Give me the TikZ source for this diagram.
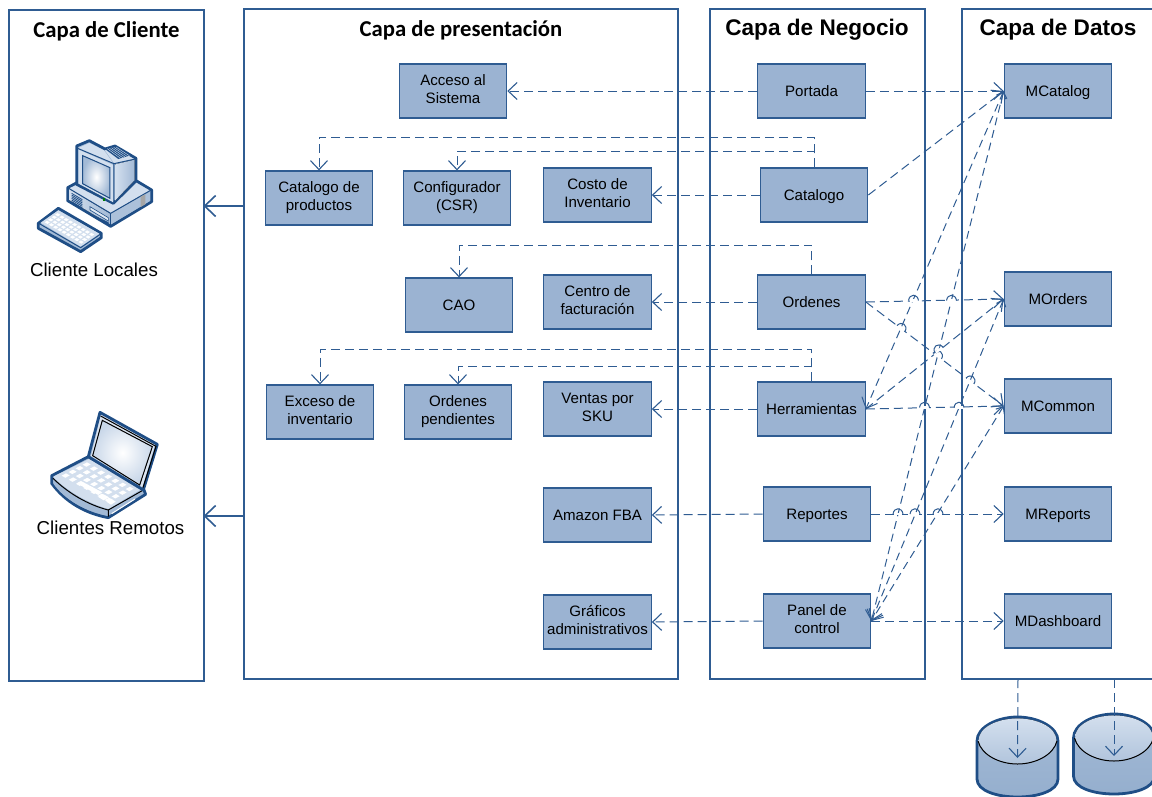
\documentclass[tikz,border=0pt]{standalone}
\usepackage{fontspec}
\setmainfont{Liberation Sans}
\newfontfamily\calib{Carlito}
\usetikzlibrary{arrows.meta}
\definecolor{edgeblue}{HTML}{2F5C92}
\definecolor{boxfill}{HTML}{9BB3D2}
\definecolor{icondark}{HTML}{1F4E86}
\definecolor{iconmid}{HTML}{A3BAD6}
\definecolor{iconlight}{HTML}{D3DFEE}
\newcommand{\boxstrut}{\rule[-3.4pt]{0pt}{18pt}}
\tikzset{
  x=1pt,y=-1pt,
  layerbox/.style={draw=edgeblue,line width=1.1pt,fill=none},
  itembox/.style={draw=edgeblue,line width=1.2pt,fill=boxfill,minimum width=107.5pt,minimum height=54pt,inner sep=0pt,align=center,font=\fontsize{15.1}{18}\selectfont,text=black,execute at begin node=\boxstrut,execute at end node=\boxstrut},
  head/.style={inner sep=0pt,text=black},
  cap1/.style={inner sep=0pt,font=\fontsize{18.7}{22}\selectfont,text=black},
  conn/.style={draw=edgeblue,line width=1pt,dash pattern=on 9pt off 5pt,-{Straight Barb[length=9pt,width=17pt,line width=1.1pt]}},
  connb/.style={draw=edgeblue,line width=1pt,dash pattern=on 8pt off 5pt,{Straight Barb[length=6pt,width=10pt,line width=1pt]}-{Straight Barb[length=9pt,width=17pt,line width=1pt]}},
  solidarrow/.style={draw=edgeblue,line width=1.6pt,-{Straight Barb[length=11pt,width=21pt,line width=1.6pt]}},
  iconline/.style={draw=icondark,line width=2.8pt,line join=round},
}
\newcommand{\lhop}[3]{%
  \fill[white,shift={(#1,#2)},rotate=#3] (-4,-1.2) rectangle (4,1.2);
  \draw[edgeblue,line width=1pt,shift={(#1,#2)},rotate=#3] (-5,0) .. controls (-4,-7) and (4,-7) .. (5,0);}
\begin{document}
\begin{tikzpicture}
\clip (0,0) rectangle (1152,796);
\fill[white] (0,0) rectangle (1152,796);
% layers
\draw[layerbox] (9,10) rectangle (204,681);
\draw[layerbox] (244,9) rectangle (678,679);
\draw[layerbox] (710,9) rectangle (925,679);
\draw[layerbox] (962,9) rectangle (1170,679);
\coordinate (laydatA) at (1018,679);
\coordinate (laydatB) at (1114,679);
\coordinate (clientA) at (203.5,206);
\coordinate (presA) at (243,206);
\coordinate (clientB) at (203.5,516);
\coordinate (presB) at (243,516);
\node[head,font=\calib\bfseries\fontsize{22.7}{26}\selectfont] (h1) at (106.5,31) {Capa de Cliente};
\node[head,font=\calib\bfseries\fontsize{22.7}{26}\selectfont] (h2) at (461,30) {Capa de presentación};
\node[head,font=\bfseries\fontsize{22.6}{28}\selectfont] (h3) at (817,30) {Capa de Negocio};
\node[head,font=\bfseries\fontsize{22.6}{28}\selectfont] (h4) at (1058,30) {Capa de Datos};
% items
\node[itembox] (acceso) at (453,91) {Acceso al\\Sistema};
\node[itembox] (portada) at (811.5,91) {Portada};
\node[itembox] (mcatalog) at (1058,91) {MCatalog};
\node[itembox] (prod) at (319,198) {Catalogo de\\productos};
\node[itembox] (config) at (457,198) {Configurador\\(CSR)};
\node[itembox] (costo) at (597.5,195) {Costo de\\Inventario};
\node[itembox] (catalogo) at (814,195) {Catalogo};
\node[itembox] (cao) at (459,305) {CAO};
\node[itembox] (centro) at (597.5,302) {Centro de\\facturación};
\node[itembox] (ordenes) at (811.5,302) {Ordenes};
\node[itembox] (morders) at (1058,299) {MOrders};
\node[itembox] (mcommon) at (1058,406) {MCommon};
\node[itembox] (exceso) at (320,412) {Exceso de\\inventario};
\node[itembox] (pend) at (458,412) {Ordenes\\pendientes};
\node[itembox] (ventas) at (597.5,409) {Ventas por\\SKU};
\node[itembox] (herr) at (811.5,409) {Herramientas};
\node[itembox] (amazon) at (597.5,515) {Amazon FBA};
\node[itembox] (reportes) at (817,514) {Reportes};
\node[itembox] (mreports) at (1058,514) {MReports};
\node[itembox] (graficos) at (597.5,622) {Gráficos\\administrativos};
\node[itembox] (panel) at (817,621) {Panel de\\control};
\node[itembox] (mdash) at (1058,621) {MDashboard};
% cylinders
\foreach \cx/\cy in {1017.5/741,1114/738}{
  \path[iconline,top color=iconmid,bottom color=iconmid!88!edgeblue]
    (\cx-40.5,\cy) -- (\cx-40.5,\cy+38) .. controls (\cx-40.5,\cy+50) and (\cx-20,\cy+56) .. (\cx,\cy+56)
    .. controls (\cx+20,\cy+56) and (\cx+40.5,\cy+50) .. (\cx+40.5,\cy+38) -- (\cx+40.5,\cy)
    .. controls (\cx+40.5,\cy-14) and (\cx+20,\cy-24) .. (\cx,\cy-24)
    .. controls (\cx-20,\cy-24) and (\cx-40.5,\cy-14) .. (\cx-40.5,\cy) -- cycle;
  \fill[top color=iconlight,bottom color=iconmid!85!white]
    (\cx-39,\cy) .. controls (\cx-39,\cy-14) and (\cx-20,\cy-22.5) .. (\cx,\cy-22.5)
    .. controls (\cx+20,\cy-22.5) and (\cx+39,\cy-14) .. (\cx+39,\cy)
    .. controls (\cx+36,\cy+14) and (\cx+18,\cy+23) .. (\cx,\cy+23)
    .. controls (\cx-18,\cy+23) and (\cx-36,\cy+14) .. (\cx-39,\cy) -- cycle;
  \draw[black,line width=1pt] (\cx-39.5,\cy) .. controls (\cx-36,\cy+14) and (\cx-18,\cy+23) .. (\cx,\cy+23)
    .. controls (\cx+18,\cy+23) and (\cx+36,\cy+14) .. (\cx+39.5,\cy);
}
\coordinate (cylA) at (1017.5,758);
\coordinate (cylB) at (1114,756);
\draw[conn] (laydatA) -- (cylA);
\draw[conn] (laydatB) -- (cylB);
% solid arrows
\draw[solidarrow] (presA) -- (clientA);
\draw[solidarrow] (presB) -- (clientB);
% routed connectors
\draw[conn] (catalogo.north) -- ++(0,-30) -| (prod.north);
\draw[conn] (catalogo.north) -- ++(0,-16) -| (config.north);
\draw[conn] (ordenes.north) -- ++(0,-29) -| (cao.north);
\draw[conn] (herr.north) -- ++(0,-32) -| (exceso.north);
\draw[conn] (herr.north) -- ++(0,-15) -| (pend.north);
% horizontal
\draw[conn] (portada.west) -- (acceso.east);
\draw[conn] (portada.east) -- (mcatalog.west);
\draw[conn] (catalogo.west) -- (costo.east);
\draw[conn] (ordenes.west) -- (centro.east);
\draw[conn] (herr.west) -- (ventas.east);
\draw[conn] (reportes.west) -- (amazon.east);
\draw[conn] (panel.west) -- (graficos.east);
\draw[conn] (ordenes.east) -- (morders.west);
\draw[conn] (herr.east) -- (mcommon.west);
\draw[conn] (reportes.east) -- (mreports.west);
\draw[conn] (panel.east) -- (mdash.west);
% diagonal
\draw[conn] (catalogo.east) -- (mcatalog.west);
\draw[conn] (ordenes.east) -- (mcommon.west);
\draw[conn] (herr.east) -- (morders.west);
\draw[connb] (mcatalog.west) -- (herr.east);
\draw[connb] (mcatalog.west) -- (panel.east);
\draw[connb] (morders.west) -- (panel.east);
\draw[connb] (mcommon.west) -- (panel.east);
% line hops
\lhop{913.5}{300.5}{0}
\lhop{951.5}{300.5}{0}
\lhop{924.5}{407.5}{0}
\lhop{959}{407.5}{0}
\lhop{898}{514}{0}
\lhop{915}{514}{0}
\lhop{938}{514}{0}
\lhop{901}{328.5}{-36.8}
\lhop{937.5}{356}{-36.8}
\lhop{970}{381}{-36.8}
\lhop{939}{350}{38.3}
% computer icon
\begin{scope}[shift={(30,135)},x=.3333pt,y=-.3333pt]
  \fill[iconline,fill=iconmid] (113,158) -- (150,138) -- (320,138) -- (365,165) -- (365,200) -- (242,274) -- (113,197) -- cycle;
  \fill[iconlight] (118,160) -- (155,143) -- (318,143) -- (358,166) -- (242,234) -- cycle;
  \fill[left color=iconlight,right color=iconmid] (118,162) -- (241,236) -- (241,268) -- (118,195) -- cycle;
  \fill[iconmid!90!white] (243,236) -- (360,168) -- (360,198) -- (243,268) -- cycle;
  \draw[icondark,line width=1pt] (116,160) -- (242,235) -- (362,166);
  \draw[icondark,line width=1pt] (242,235) -- (242,272);
  \fill[gray!70] (332,185) -- (346,178) -- (346,208) -- (332,216) -- cycle;
  \foreach \k in {0,...,6}{\draw[icondark,line width=.8pt] (125,{175+\k*5}) -- (157,{194+\k*5});}
  \fill[iconlight!70!white,draw=icondark,line width=.6pt] (180,215) -- (235,248) -- (235,258) -- (180,225) -- cycle;
  \fill[icondark] (190,240) -- (236,262) -- (236,268) -- (190,246) -- cycle;
  \fill[iconline,fill=iconmid] (140,33) -- (178,17) -- (225,42) -- (255,33) -- (318,70) -- (318,138) -- (250,205) -- (140,148) -- cycle;
  \fill[iconlight] (147,38) -- (178,24) -- (222,46) -- (250,85) -- (147,42) -- cycle;
  \fill[iconlight] (225,46) -- (255,39) -- (312,72) -- (255,88) -- cycle;
  \fill[left color=iconlight,right color=iconmid] (256,88) -- (313,74) -- (313,136) -- (256,196) -- cycle;
  \fill[iconlight] (146,44) -- (250,90) -- (250,202) -- (146,146) -- cycle;
  \draw[icondark,line width=1pt] (143,40) -- (252,86) -- (252,204);
  \draw[icondark,line width=1pt] (252,86) -- (316,72);
  \fill[inner color=white,outer color=iconmid,draw=icondark,line width=1pt] (158,62) -- (240,98) -- (240,190) -- (158,146) -- cycle;
  \fill[green!50!black] (219,189) rectangle (226,197);
  \fill[icondark] (225,42) -- (258,36) -- (298,62) -- (265,72) -- cycle;
  \foreach \k in {1,...,5}{\draw[iconlight,line width=.4pt] ({225+\k*6.6},{42-\k*1.2}) -- ({265+\k*6.6},{72-\k*2});}
  % keyboard
  \fill[iconline,fill=iconmid] (25,265) -- (85,220) -- (214,295) -- (214,308) -- (152,350) -- (25,280) -- cycle;
  \fill[iconlight] (32,263) -- (85,226) -- (208,296) -- (152,335) -- cycle;
  \draw[icondark,line width=1pt] (28,266) -- (152,338) -- (212,297);
  \foreach \i in {0,...,8}{\foreach \j in {0,...,3}{
    \fill[white] ({44+12.7*\i+10.5*\j},{262+7.4*\i-7.6*\j}) -- ++(8.5,4.8) -- ++(7,-4.8) -- ++(-8.5,-4.8) -- cycle;}}
\end{scope}
% laptop icon
\begin{scope}[shift={(45,405)},x=.3333pt,y=-.3333pt]
  \fill[iconline,fill=iconmid] (20,212) -- (130,155) -- (295,250) -- (302,268) -- (190,338) .. controls (120,325) and (60,290) .. (20,235) -- cycle;
  \fill[iconlight] (27,214) -- (132,162) -- (290,252) -- (190,312) .. controls (130,295) and (70,260) .. (27,218) -- cycle;
  \fill[iconmid] (25,222) .. controls (70,265) and (130,300) .. (190,316) -- (190,332) .. controls (120,318) and (60,285) .. (25,236) -- cycle;
  \draw[black,line width=1pt] (24,220) .. controls (70,265) and (130,300) .. (190,315) -- (190,335);
  \draw[black,line width=1pt] (190,315) -- (295,255);
  \draw[white,line width=1pt] (200,326) -- (270,282);
  \foreach \i in {0,...,6}{\foreach \j in {0,...,3}{
    \fill[white] ({50+21.5*\i+21*\j},{212+12.2*\i-11*\j}) -- ++(11,6.3) -- ++(13,-7) -- ++(-11,-6.3) -- cycle;}}
  \fill[white] (95,235) -- (108,228) -- (172,262) -- (160,270) -- cycle;
  \fill[white] (160,276) -- (176,268) -- (192,277) -- (176,286) -- cycle;
  \fill[white] (184,290) -- (198,281) -- (212,290) -- (198,299) -- cycle;
  \fill[iconline,fill=iconmid] (165,22) -- (337,118) -- (295,255) -- (130,155) -- cycle;
  \fill[iconlight!80!white] (168,30) -- (330,120) -- (292,246) -- (138,153) -- cycle;
  \fill[inner color=white,outer color=iconlight!80!iconmid,draw=black,line width=1pt] (172,46) -- (322,125) -- (284,240) -- (143,152) -- cycle;
  \draw[black,line width=1pt] (167,33) -- (333,124) -- (294,248);
\end{scope}
\node[cap1] (cl1) at (94,270) {Cliente Locales};
\node[cap1] (cl2) at (110.5,528) {Clientes Remotos};
\end{tikzpicture}
\end{document}
